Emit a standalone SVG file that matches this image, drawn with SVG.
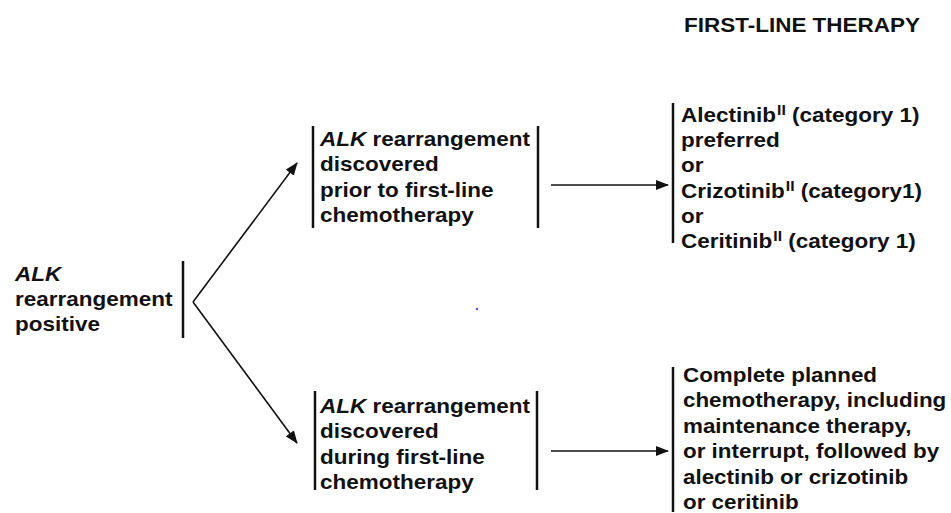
<svg xmlns="http://www.w3.org/2000/svg" width="951" height="513" viewBox="0 0 951 513">
<style>
  .t { font-family: "Liberation Sans", Arial, sans-serif; font-weight: bold; font-size: 20px; fill: #111; }
  .i { font-style: italic; }
  .sup { font-size: 14px; }
  .bar { stroke: #111; stroke-width: 2.5; fill: none; }
  .conn { stroke: #111; stroke-width: 1.6; fill: none; marker-end: url(#ah); }
</style>
<defs>
  <marker id="ah" viewBox="0 0 13 10" refX="12" refY="5" markerWidth="13" markerHeight="10" markerUnits="userSpaceOnUse" orient="auto">
    <path d="M0,0 L13,5 L0,10 Z" fill="#111"/>
  </marker>
</defs>
<rect width="951" height="513" fill="#fff"/>

<g id="title">
  <text class="t" transform="translate(684,32) scale(1.125,1)">FIRST-LINE THERAPY</text>
</g>

<g id="node-positive">
  <text class="t" transform="translate(15,281) scale(1.125,1)">
    <tspan x="0" class="i">ALK</tspan>
    <tspan x="0" dy="25">rearrangement</tspan>
    <tspan x="0" dy="25">positive</tspan>
  </text>
  <line class="bar" x1="183" y1="261" x2="183" y2="338"/>
</g>

<g id="node-prior">
  <line class="bar" x1="313" y1="126" x2="313" y2="228"/>
  <text class="t" transform="translate(320,146) scale(1.125,1)">
    <tspan x="0"><tspan class="i">ALK</tspan> rearrangement</tspan>
    <tspan x="0" dy="25.5">discovered</tspan>
    <tspan x="0" dy="25.5">prior to first-line</tspan>
    <tspan x="0" dy="25.5">chemotherapy</tspan>
  </text>
  <line class="bar" x1="538" y1="126" x2="538" y2="228"/>
</g>

<g id="node-during">
  <line class="bar" x1="315" y1="391" x2="315" y2="490"/>
  <text class="t" transform="translate(320,413) scale(1.125,1)">
    <tspan x="0"><tspan class="i">ALK</tspan> rearrangement</tspan>
    <tspan x="0" dy="25.5">discovered</tspan>
    <tspan x="0" dy="25.5">during first-line</tspan>
    <tspan x="0" dy="25.5">chemotherapy</tspan>
  </text>
  <line class="bar" x1="537" y1="391" x2="537" y2="490"/>
</g>

<g id="node-therapy-prior">
  <line class="bar" x1="673" y1="103" x2="673" y2="243"/>
  <text class="t" transform="translate(681,122) scale(1.125,1)">
    <tspan x="0">Alectinib<tspan class="sup" dx="1" dy="-7">II</tspan><tspan dy="7"> (category 1)</tspan></tspan>
    <tspan x="0" dy="25.2">preferred</tspan>
    <tspan x="0" dy="25.2">or</tspan>
    <tspan x="0" dy="25.2">Crizotinib<tspan class="sup" dx="1" dy="-7">II</tspan><tspan dy="7"> (category1)</tspan></tspan>
    <tspan x="0" dy="25.2">or</tspan>
    <tspan x="0" dy="25.2">Ceritinib<tspan class="sup" dx="1" dy="-7">II</tspan><tspan dy="7"> (category 1)</tspan></tspan>
  </text>
</g>

<g id="node-therapy-during">
  <line class="bar" x1="673" y1="367" x2="673" y2="512"/>
  <text class="t" transform="translate(683,382) scale(1.12,1)">
    <tspan x="0">Complete planned</tspan>
    <tspan x="0" dy="25.4">chemotherapy, including</tspan>
    <tspan x="0" dy="25.4">maintenance therapy,</tspan>
    <tspan x="0" dy="25.4">or interrupt, followed by</tspan>
    <tspan x="0" dy="25.4">alectinib or crizotinib</tspan>
    <tspan x="0" dy="25.4">or ceritinib</tspan>
  </text>
</g>

<g id="connectors">
  <line class="conn" x1="193" y1="302" x2="297" y2="163"/>
  <line class="conn" x1="193" y1="302" x2="297" y2="443"/>
  <line class="conn" x1="551" y1="185" x2="668" y2="185"/>
  <line class="conn" x1="551" y1="451" x2="668" y2="451"/>
</g>

<circle cx="477" cy="309" r="1.2" fill="#4a4aff"/>
</svg>
